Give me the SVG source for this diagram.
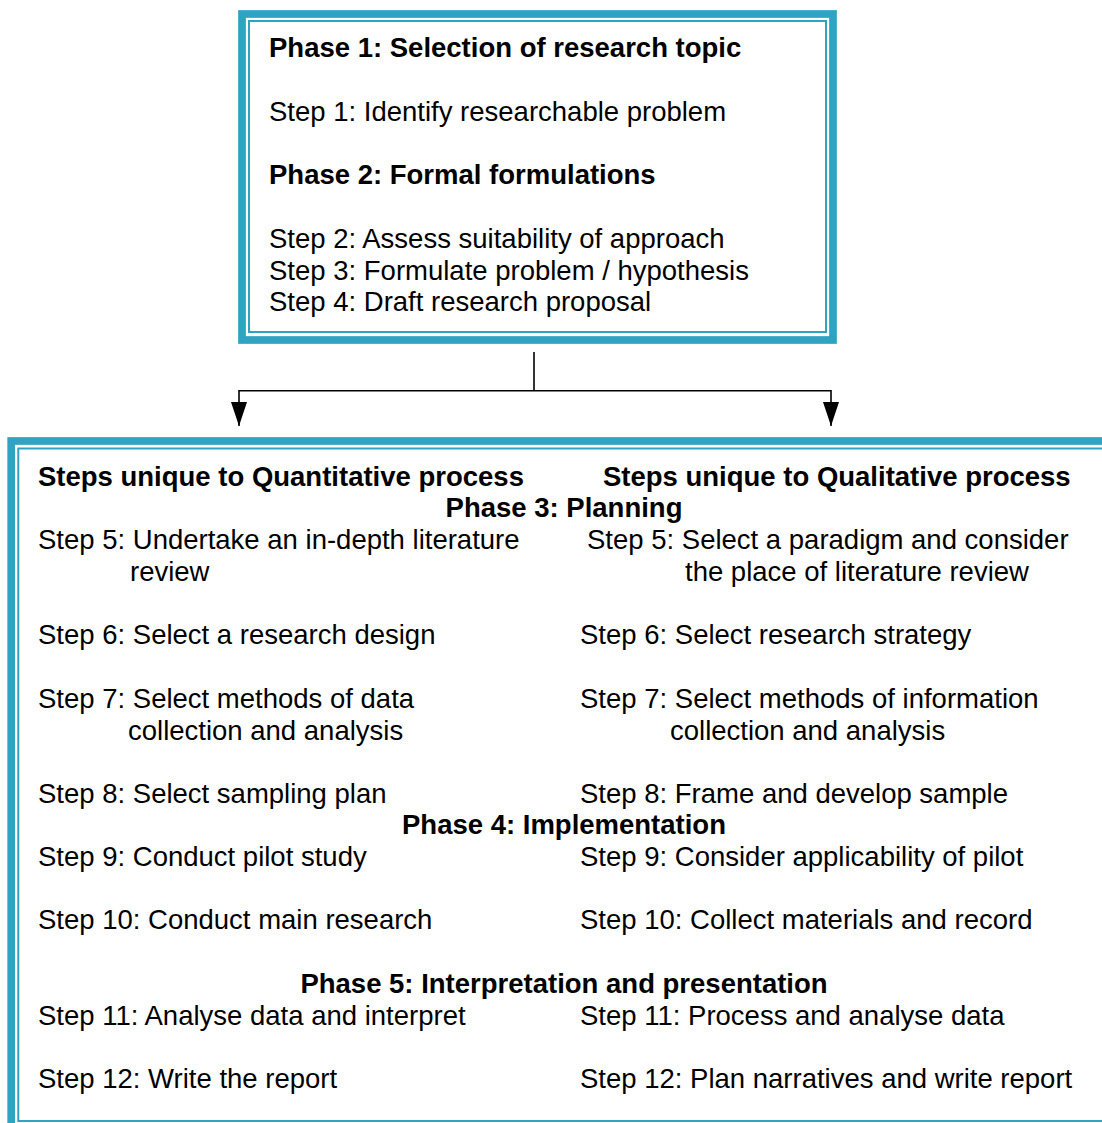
<svg xmlns="http://www.w3.org/2000/svg" width="1102" height="1123" viewBox="0 0 1102 1123">
<style>
.thick{fill:none;stroke:#2fa3c1;stroke-width:7.7}
.thin{fill:none;stroke:#2fa3c1;stroke-width:2}
text{font-family:"Liberation Sans",Arial,sans-serif;font-size:27.5px;fill:#000}
.b{font-weight:bold}
.c{text-anchor:middle}
.conn{fill:none;stroke:#000;stroke-width:1.6}
</style>
<defs>
<marker id="ah" markerWidth="24" markerHeight="16" refX="24" refY="8" orient="auto" markerUnits="userSpaceOnUse" viewBox="0 0 24 16">
<path d="M0,0 L24,8 L0,16 Z" fill="#000"/>
</marker>
</defs>
<rect x="0" y="0" width="1102" height="1123" fill="#fff"/>
<g id="phase12">
<rect class="thick" x="242" y="14" width="591" height="326"/>
<rect class="thin" x="249" y="21" width="577" height="311"/>
<text class="b" x="269" y="57">Phase 1: Selection of research topic</text>
<text x="269" y="121">Step 1: Identify researchable problem</text>
<text class="b" x="269" y="184">Phase 2: Formal formulations</text>
<text x="269" y="248">Step 2: Assess suitability of approach</text>
<text x="269" y="280">Step 3: Formulate problem / hypothesis</text>
<text x="269" y="311">Step 4: Draft research proposal</text>
</g>
<g id="connectors">
<path class="conn" d="M534,352 V390.7"/>
<path class="conn" d="M239,390.7 H831"/>
<path class="conn" d="M239,390 V426" marker-end="url(#ah)"/>
<path class="conn" d="M831,390 V426" marker-end="url(#ah)"/>
</g>
<g id="phase345">
<rect class="thick" x="11.2" y="441" width="1110" height="687"/>
<rect class="thin" x="18.3" y="448.5" width="1100" height="672.5"/>
<text class="b" x="38" y="486">Steps unique to Quantitative process</text>
<text class="b" x="603" y="486">Steps unique to Qualitative process</text>
<text class="b c" x="564" y="517">Phase 3: Planning</text>
<text x="38" y="549">Step 5: Undertake an in-depth literature</text>
<text x="130" y="581">review</text>
<text x="587" y="549">Step 5: Select a paradigm and consider</text>
<text x="685" y="581">the place of literature review</text>
<text x="38" y="644">Step 6: Select a research design</text>
<text x="580" y="644">Step 6: Select research strategy</text>
<text x="38" y="708">Step 7: Select methods of data</text>
<text x="128" y="740">collection and analysis</text>
<text x="580" y="708">Step 7: Select methods of information</text>
<text x="670" y="740">collection and analysis</text>
<text x="38" y="803">Step 8: Select sampling plan</text>
<text x="580" y="803">Step 8: Frame and develop sample</text>
<text class="b c" x="564" y="834">Phase 4: Implementation</text>
<text x="38" y="866">Step 9: Conduct pilot study</text>
<text x="580" y="866">Step 9: Consider applicability of pilot</text>
<text x="38" y="929">Step 10: Conduct main research</text>
<text x="580" y="929">Step 10: Collect materials and record</text>
<text class="b c" x="564" y="993">Phase 5: Interpretation and presentation</text>
<text x="38" y="1025">Step 11: Analyse data and interpret</text>
<text x="580" y="1025">Step 11: Process and analyse data</text>
<text x="38" y="1088">Step 12: Write the report</text>
<text x="580" y="1088">Step 12: Plan narratives and write report</text>
</g>
</svg>
